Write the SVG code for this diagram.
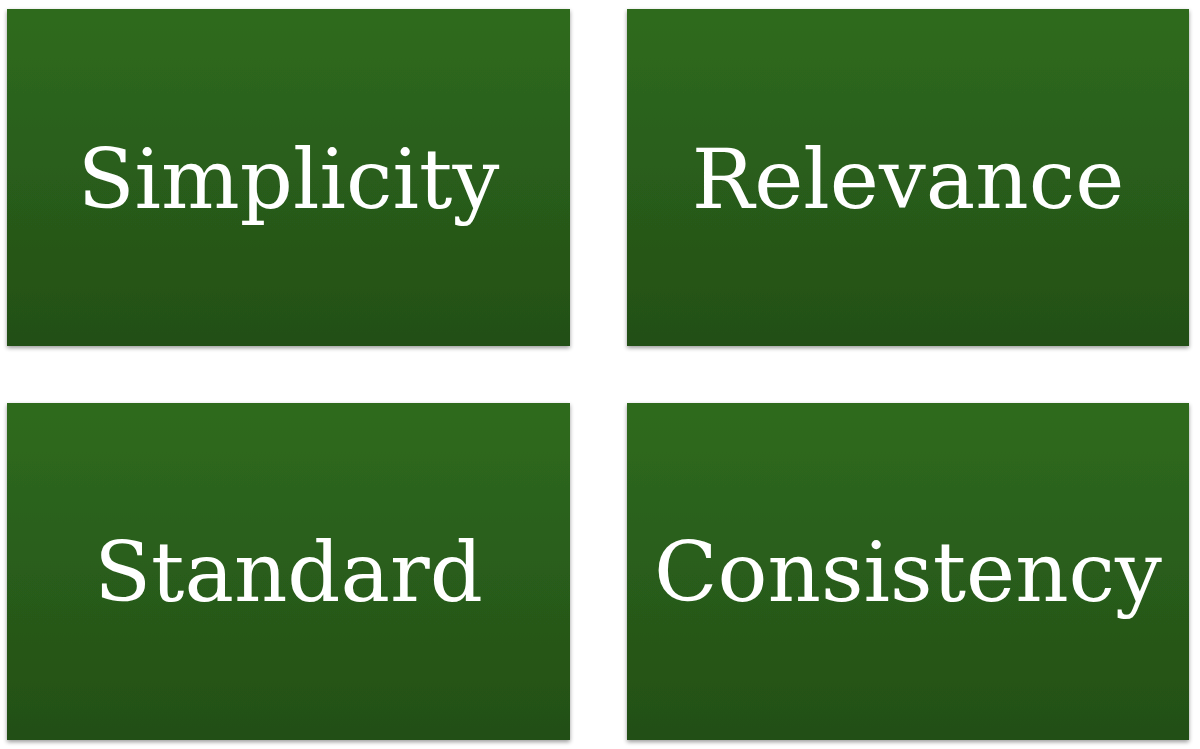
<svg xmlns="http://www.w3.org/2000/svg" width="1200" height="749" viewBox="0 0 1200 749">
<defs>
<linearGradient id="g" x1="0" y1="0" x2="0" y2="1">
<stop offset="0" stop-color="#2f6b1d"/>
<stop offset="1" stop-color="#234f17"/>
</linearGradient>
<filter id="sh" x="-5%" y="-5%" width="110%" height="110%">
<feGaussianBlur in="SourceAlpha" stdDeviation="2"/>
<feOffset dx="0" dy="2"/>
<feComponentTransfer><feFuncA type="linear" slope="0.4"/></feComponentTransfer>
<feMerge><feMergeNode/><feMergeNode in="SourceGraphic"/></feMerge>
</filter>
</defs>
<style>
rect{fill:url(#g);filter:url(#sh)}
text{font-family:"DejaVu Serif","Liberation Serif",serif;font-size:83px;fill:#fff;text-anchor:middle}
</style>
<rect width="1200" height="749" style="fill:#fff;filter:none"/>
<g id="simplicity"><rect x="7" y="9" width="563" height="337"/><text x="288.5" y="208">Simplicity</text></g>
<g id="relevance"><rect x="627" y="9" width="562" height="337"/><text x="908" y="208">Relevance</text></g>
<g id="standard"><rect x="7" y="403" width="563" height="337"/><text x="288.5" y="601">Standard</text></g>
<g id="consistency"><rect x="627" y="403" width="562" height="337"/><text x="908" y="601">Consistency</text></g>
<g id="connectors"/>
</svg>
